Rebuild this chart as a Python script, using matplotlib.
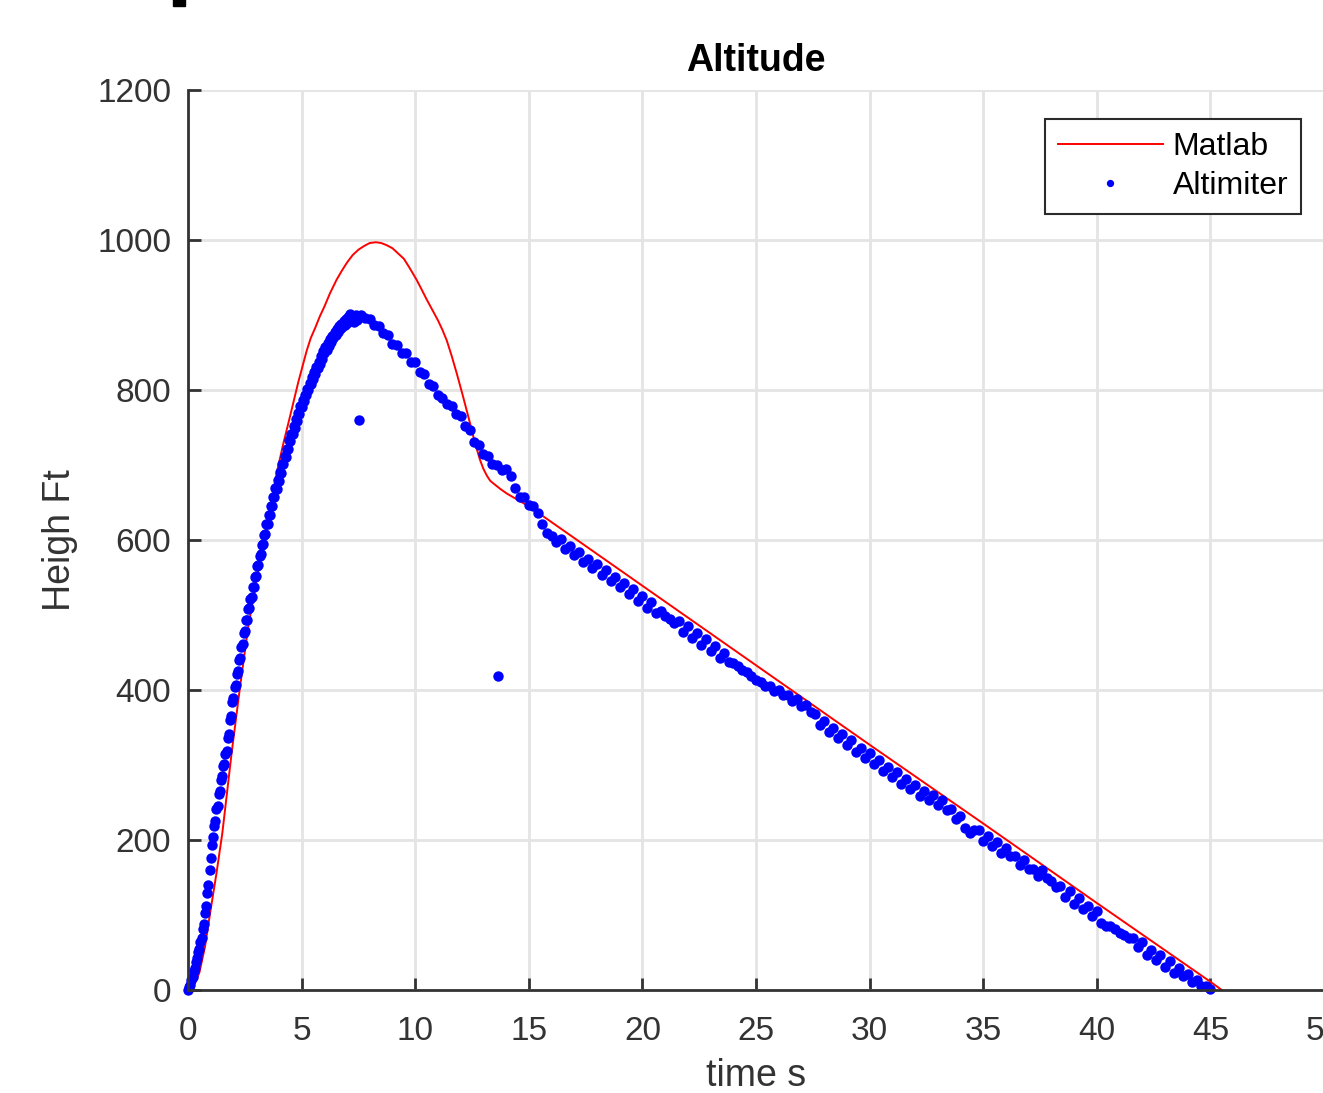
import matplotlib.pyplot as plt
import numpy as np
from matplotlib.patches import Rectangle

plt.rcParams['font.family'] = ['Liberation Sans', 'DejaVu Sans']

# simulated altitude (Matlab model)
t_sim = [0, 0.25, 0.5, 0.75, 0.97, 1.25, 1.51, 1.92, 2.29, 2.65, 3.02, 3.37,
         3.9, 4.2, 4.5, 4.85, 5.22, 5.4, 5.6, 5.8, 6.0, 6.25, 6.54, 6.75,
         7.0, 7.25, 7.5, 7.75, 8.0, 8.27, 8.5, 8.75, 9.0, 9.25, 9.5, 9.75,
         10.06, 10.25, 10.5, 10.75, 11.0, 11.2, 11.39, 11.6, 11.83, 12.1,
         12.41, 12.6, 12.85, 13.0, 13.15, 13.3, 13.5, 13.75, 14.03,
         15.05, 20, 25, 30, 35, 40, 45, 45.5]
h_sim = [0, 5, 23, 58, 102, 155, 209, 316, 404, 484, 547, 604,
         689, 729, 766, 810, 852, 869, 883, 898, 911, 929, 947, 958,
         970, 980, 987, 992, 996, 997, 996, 993, 989, 982, 975, 963,
         947, 936, 921, 907, 893, 880, 866, 846, 822, 792,
         756, 733, 707, 695, 686, 679, 674, 668, 662,
         644, 539, 433, 327, 222, 116, 11, 0]

# altimeter readings, ascent sampled every 0.05 s
t_up = np.round(np.arange(0, 7.5, 0.05), 2)
h_up = [0, 4, 7, 14, 18, 26, 30, 38, 43, 51,
        55, 64, 69, 82, 88, 103, 112, 130, 140, 160,
        176, 193, 204, 219, 226, 241, 246, 261, 266, 280,
        285, 299, 301, 315, 319, 336, 342, 360, 365, 384,
        390, 404, 407, 421, 425, 440, 443, 458, 461, 476,
        479, 493, 494, 508, 509, 522, 524, 537, 537, 551,
        552, 565, 567, 579, 581, 594, 595, 607, 608, 621,
        621, 634, 633, 646, 645, 657, 657, 669, 668, 680,
        679, 691, 690, 701, 701, 712, 711, 722, 722, 733,
        732, 742, 741, 752, 750, 761, 759, 770, 768, 779,
        777, 787, 785, 794, 793, 802, 800, 810, 808, 817,
        815, 824, 822, 831, 829, 838, 835, 845, 842, 852,
        849, 857, 854, 863, 859, 868, 864, 872, 869, 877,
        873, 881, 877, 885, 881, 888, 884, 892, 887, 895,
        890, 897, 893, 901, 898, 895, 891, 898, 900, 894]

# descent sampled every 0.2 s
t_down = np.round(np.arange(7.6, 45.01, 0.2), 2)
h_down = [900, 896, 895, 887, 886, 876, 874, 862, 860, 850,
          849, 838, 837, 824, 821, 808, 806, 793, 790, 781,
          779, 768, 766, 752, 747, 731, 727, 715, 712, 702,
          700, 693, 695, 686, 670, 658, 657, 647, 645, 636,
          622, 609, 606, 597, 601, 588, 592, 580, 584, 571,
          575, 563, 568, 553, 560, 545, 551, 537, 543, 528,
          535, 519, 526, 510, 518, 503, 505, 499, 495, 490,
          492, 478, 486, 469, 476, 460, 468, 452, 459, 443,
          450, 438, 436, 432, 427, 424, 419, 414, 411, 406,
          405, 399, 400, 394, 394, 386, 388, 379, 380, 371,
          368, 354, 359, 344, 350, 336, 341, 327, 333, 318,
          323, 309, 316, 301, 307, 292, 298, 284, 291, 275,
          281, 268, 274, 259, 266, 253, 260, 247, 253, 240,
          242, 228, 232, 216, 210, 214, 213, 199, 206, 192,
          197, 183, 190, 179, 179, 167, 173, 161, 162, 152,
          160, 150, 145, 137, 139, 124, 132, 115, 123, 108,
          112, 99, 106, 90, 86, 85, 82, 76, 73, 70,
          69, 57, 64, 47, 54, 40, 47, 31, 39, 23,
          29, 19, 22, 11, 14, 6, 6, 1]

# stray readings
t_out = [7.53, 13.64]
h_out = [760, 419]

t_alt = np.concatenate([t_up, t_down, t_out])
h_alt = np.concatenate([h_up, h_down, h_out])

W, H = 1323, 1093
fig = plt.figure(figsize=(W / 100, H / 100), dpi=100)
ax = fig.add_axes([188 / W, 1 - 990 / H, (1324 - 188) / W, (990 - 90) / H])

ax.plot(t_sim, h_sim, color='red', lw=1.4, label='Matlab')
ax.plot(t_alt, h_alt, 'o', color='blue', ms=7.5, mew=0, label='Altimiter', clip_on=False)

ax.set_xlim(0, 50)
ax.set_ylim(0, 1200)
ax.set_xticks(range(0, 51, 5))
ax.set_yticks(range(0, 1201, 200))
ax.grid(True, color='#e4e4e4', lw=2)
ax.set_axisbelow(True)
for s in ['top', 'right']:
    ax.spines[s].set_visible(False)
for s in ['left', 'bottom']:
    ax.spines[s].set_linewidth(2)
    ax.spines[s].set_color('#333333')
ax.tick_params(direction='in', length=9, width=2, colors='#333333',
               labelsize=24, pad=12)
ax.tick_params(axis='x', pad=19)

ax.set_title('Altitude', fontsize=27, fontweight='bold', pad=14)
ax.set_xlabel('time s', fontsize=27, color='#333333', labelpad=8)
ax.set_ylabel('Heigh Ft', fontsize=27, color='#333333', labelpad=14)

leg = ax.legend(loc='upper right', bbox_to_anchor=(1301 / W, 1 - 119 / H),
                bbox_transform=fig.transFigure, borderaxespad=0,
                fontsize=23, handlelength=3.3, handletextpad=0.3,
                borderpad=0.4, labelspacing=0.3, fancybox=False,
                framealpha=1, edgecolor='#2b2b2b', markerscale=0.7)
leg.get_frame().set_linewidth(1.5)

# small black mark at top edge
fig.add_artist(Rectangle((173 / W, 1 - 6 / H), 12 / W, 8 / H,
                         transform=fig.transFigure, color='black'))

fig.savefig('out.png', dpi=100)
